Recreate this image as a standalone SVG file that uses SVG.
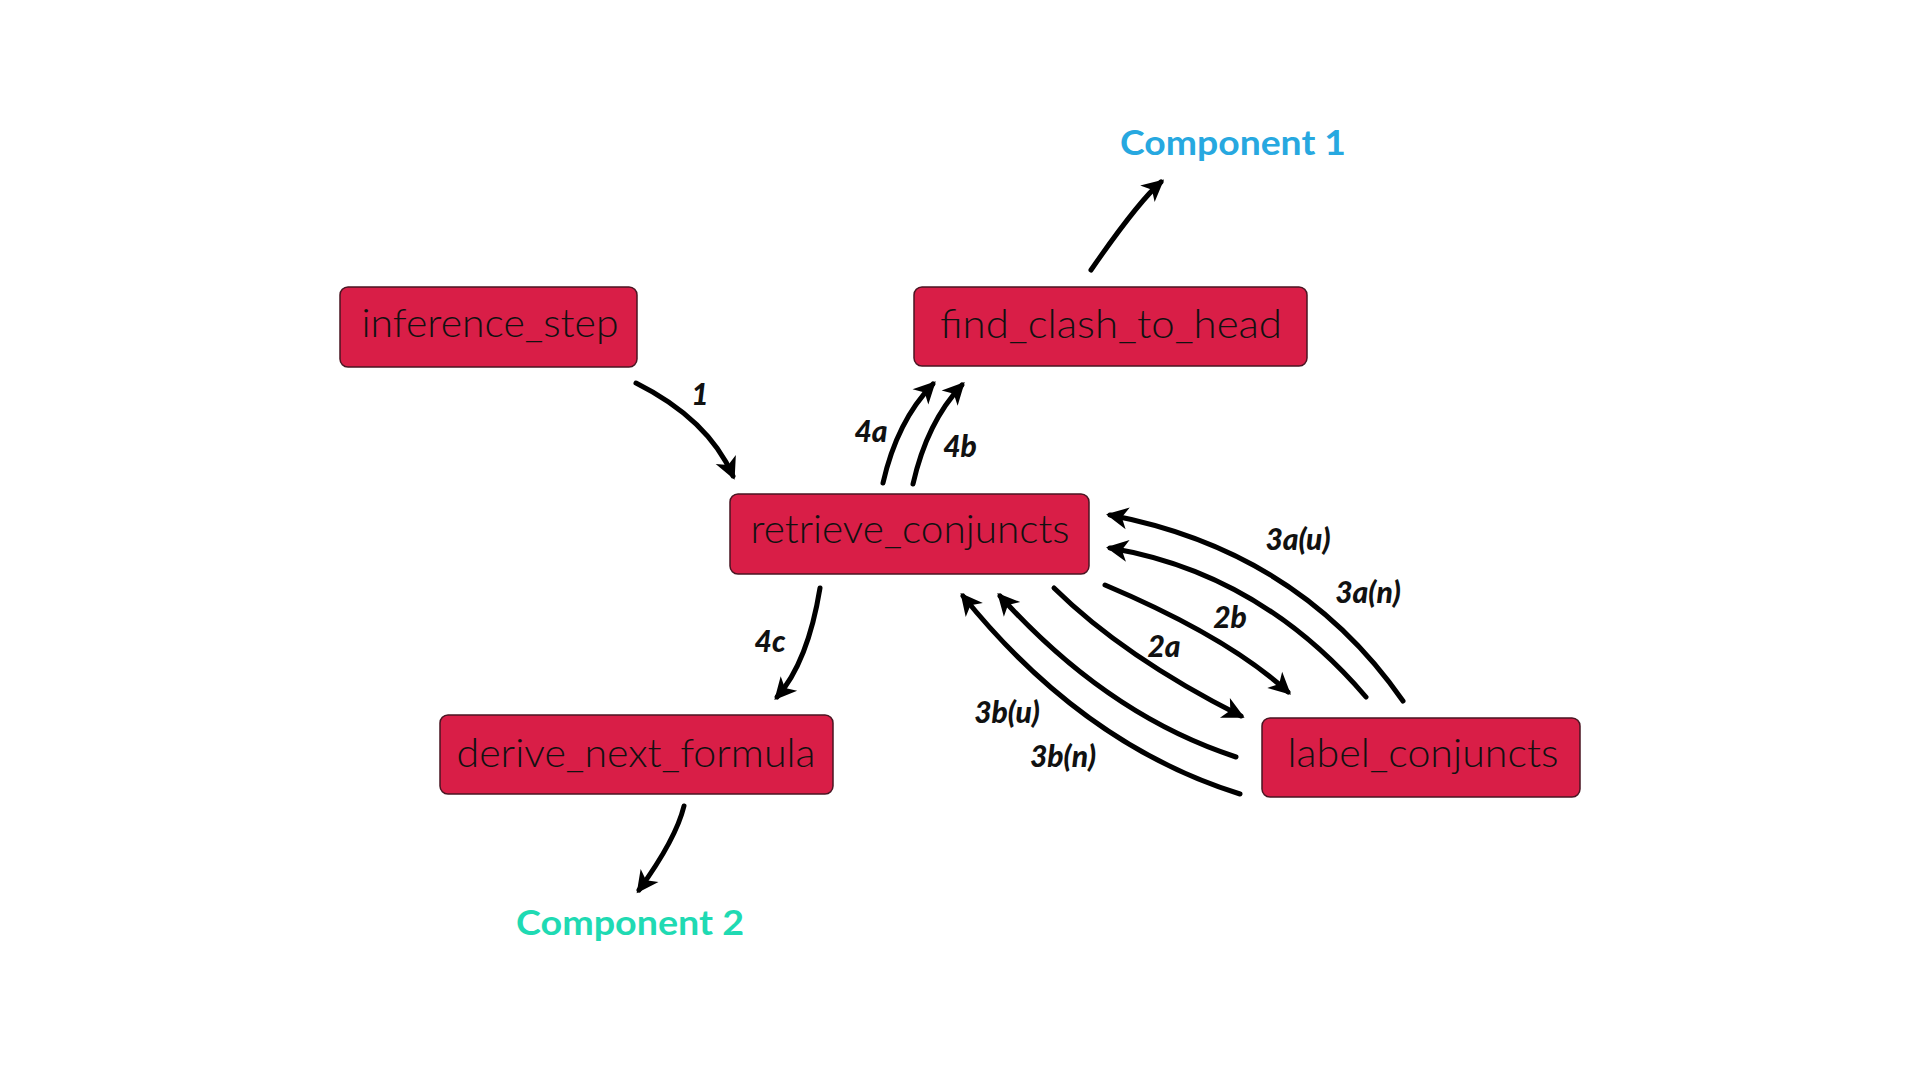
<svg xmlns="http://www.w3.org/2000/svg" width="1920" height="1080" viewBox="0 0 1920 1080">
<style>
.box{fill:#d91e47;stroke:#4a1522;stroke-width:1.5}
.nt{font-family:Lato,"Liberation Sans",sans-serif;font-weight:300;font-size:40px;fill:#111;text-anchor:middle}
.el{font-family:Lato,"Liberation Sans",sans-serif;font-weight:900;font-style:italic;font-size:30px;fill:#111;text-anchor:middle}
.comp{font-family:Lato,"Liberation Sans",sans-serif;font-weight:700;font-size:35px;text-anchor:middle}
.ed{fill:none;stroke:#000;stroke-width:5;stroke-linecap:round;marker-end:url(#ah)}
</style>
<defs>
<marker id="ah" markerUnits="userSpaceOnUse" viewBox="-20 -13 26 26" markerWidth="26" markerHeight="26" refX="0" refY="0" orient="auto">
<path d="M4,0 L-18,-11 L-12,0 L-18,11 Z" fill="#000"/>
</marker>
</defs>
<rect width="1920" height="1080" fill="#fff"/>
<g id="connectors">
<path class="ed" d="M636,383 Q708,419 733,476"/>
<path class="ed" d="M883,483 Q897,421 933,384"/>
<path class="ed" d="M913,484 Q927,422 962,385"/>
<path class="ed" d="M820,588 Q808,662 777,697"/>
<path class="ed" d="M684,806 Q676,839 639,890"/>
<path class="ed" d="M1091,270 Q1138,202 1161,182"/>
<path class="ed" d="M1054,588 Q1124,657 1241,716"/>
<path class="ed" d="M1105,585 Q1228,637 1288,692"/>
<path class="ed" d="M1403,701 Q1299,551 1110,515"/>
<path class="ed" d="M1366,697 Q1260,573 1110,548"/>
<path class="ed" d="M1236,757 Q1107,715 1000,596"/>
<path class="ed" d="M1240,794 Q1083,745 963,596"/>
</g>
<g id="edge-labels">
<text class="el" x="700" y="405">1</text>
<text class="el" x="871" y="442">4a</text>
<text class="el" x="960" y="457">4b</text>
<text class="el" x="770" y="652">4c</text>
<text class="el" x="1164" y="657">2a</text>
<text class="el" x="1230" y="628">2b</text>
<text class="el" x="1298" y="550">3a(u)</text>
<text class="el" x="1368" y="603">3a(n)</text>
<text class="el" x="1007" y="723">3b(u)</text>
<text class="el" x="1063" y="767">3b(n)</text>
</g>
<g id="inference_step">
<rect class="box" x="340" y="287" width="297" height="80" rx="8"/>
<text class="nt" x="490" y="337" textLength="257" lengthAdjust="spacingAndGlyphs">inference_step</text>
</g>
<g id="find_clash_to_head">
<rect class="box" x="914" y="287" width="393" height="79" rx="8"/>
<text class="nt" x="1111" y="338" textLength="342" lengthAdjust="spacingAndGlyphs">find_clash_to_head</text>
</g>
<g id="retrieve_conjuncts">
<rect class="box" x="730" y="494" width="359" height="80" rx="8"/>
<text class="nt" x="910" y="543" textLength="319" lengthAdjust="spacingAndGlyphs">retrieve_conjuncts</text>
</g>
<g id="derive_next_formula">
<rect class="box" x="440" y="715" width="393" height="79" rx="8"/>
<text class="nt" x="636" y="767" textLength="359" lengthAdjust="spacingAndGlyphs">derive_next_formula</text>
</g>
<g id="label_conjuncts">
<rect class="box" x="1262" y="718" width="318" height="79" rx="8"/>
<text class="nt" x="1423" y="767" textLength="271" lengthAdjust="spacingAndGlyphs">label_conjuncts</text>
</g>
<g id="component1">
<text class="comp" x="1233" y="155" fill="#27a8e0" textLength="226" lengthAdjust="spacingAndGlyphs">Component 1</text>
</g>
<g id="component2">
<text class="comp" x="630" y="935" fill="#1fdab3" textLength="228" lengthAdjust="spacingAndGlyphs">Component 2</text>
</g>
</svg>
